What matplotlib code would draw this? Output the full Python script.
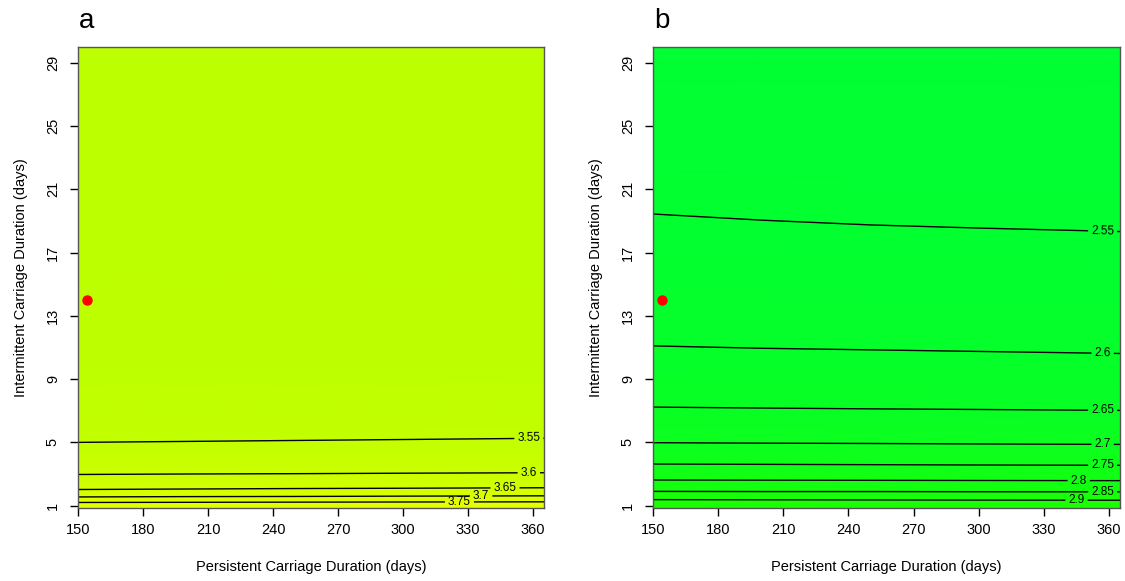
import numpy as np
import matplotlib
matplotlib.use("Agg")
import matplotlib.pyplot as plt
from matplotlib.colors import LinearSegmentedColormap, Normalize

plt.rcParams['font.family'] = ['Liberation Sans', 'DejaVu Sans']

# ---- data ----
x_grid = [150, 200, 250, 300, 365]

# Panel a: contour values and the y positions where they cross each x_grid column
a_levels = [3.79, 3.75, 3.70, 3.65, 3.60, 3.55, 3.52, 3.505]
a_ypos = [
    [0.80, 0.80, 0.80, 0.80, 0.80],
    [1.20, 1.21, 1.22, 1.23, 1.24],
    [1.55, 1.57, 1.58, 1.60, 1.62],
    [2.02, 2.05, 2.08, 2.10, 2.13],
    [2.97, 3.00, 3.02, 3.05, 3.08],
    [5.00, 5.06, 5.12, 5.18, 5.26],
    [10.0, 10.0, 10.0, 10.0, 10.0],
    [30.5, 30.5, 30.5, 30.5, 30.5],
]
a_contours = [3.55, 3.6, 3.65, 3.7, 3.75]
a_label_x = [358, 358, 347, 336, 326]

# Panel b
b_levels = [2.95, 2.90, 2.85, 2.80, 2.75, 2.70, 2.65, 2.60, 2.55, 2.525]
b_ypos = [
    [0.80, 0.80, 0.80, 0.80, 0.80],
    [1.38, 1.37, 1.36, 1.35, 1.34],
    [1.90, 1.89, 1.89, 1.88, 1.87],
    [2.62, 2.61, 2.60, 2.59, 2.58],
    [3.63, 3.61, 3.59, 3.57, 3.55],
    [4.98, 4.95, 4.93, 4.90, 4.87],
    [7.23, 7.17, 7.12, 7.08, 7.02],
    [11.1, 10.95, 10.85, 10.75, 10.62],
    [19.44, 19.05, 18.75, 18.55, 18.33],
    [30.5, 30.5, 30.5, 30.5, 30.5],
]
b_contours = [2.55, 2.6, 2.65, 2.7, 2.75, 2.8, 2.85, 2.9]
b_label_x = [357, 357, 357, 357, 357, 346, 357, 345]

point_x = [154]
point_y = [14]

x_ticks = [150, 180, 210, 240, 270, 300, 330, 360]
y_ticks = [1, 5, 9, 13, 17, 21, 25, 29]

panels = [
    dict(letter="a", levels=a_levels, ypos=a_ypos, contours=a_contours,
         label_x=a_label_x, colors=["#BBFF00", "#E8FF00"]),
    dict(letter="b", levels=b_levels, ypos=b_ypos, contours=b_contours,
         label_x=b_label_x, colors=["#00FF33", "#1CFF00"]),
]

fig = plt.figure(figsize=(11.25, 5.81), dpi=100)
fig.patch.set_facecolor("white")

W, H = 1125, 581
axes_px = [(78, 544), (653, 1120)]
top_px, bot_px = 47, 508

for (l, r), p in zip(axes_px, panels):
    ax = fig.add_axes([l / W, 1 - bot_px / H, (r - l) / W, (bot_px - top_px) / H])
    X = np.tile(np.array(x_grid, dtype=float), (len(p["levels"]), 1))
    Y = np.array(p["ypos"], dtype=float)
    Z = np.tile(np.array(p["levels"], dtype=float)[:, None], (1, len(x_grid)))
    cmap = LinearSegmentedColormap.from_list("c", p["colors"])
    norm = Normalize(vmin=min(p["levels"]), vmax=max(p["levels"]))
    ax.pcolormesh(X, Y, Z, shading="gouraud", cmap=cmap, norm=norm)
    cs = ax.contour(X, Y, Z, levels=sorted(p["contours"]), colors="black",
                    linewidths=1.0)
    manual = []
    for lev, lx in zip(p["contours"], p["label_x"]):
        i = p["levels"].index(lev)
        manual.append((lx, np.interp(lx, x_grid, p["ypos"][i])))
    ax.clabel(cs, fmt=lambda v: f"{v:g}", manual=manual, inline=True,
              inline_spacing=3, fontsize=8.5)
    ax.plot(point_x, point_y, "o", color="red", markersize=6.5, zorder=5)

    ax.set_xlim(150, 365)
    ax.set_ylim(0.85, 30.0)
    ax.set_xticks(x_ticks)
    ax.set_yticks(y_ticks)
    ax.set_yticklabels([str(t) for t in y_ticks], rotation=90, va="center")
    ax.tick_params(direction="out", length=6, width=1, labelsize=10.5, pad=5,
                   colors="black")
    ax.tick_params(axis="y", pad=7)
    for s in ax.spines.values():
        s.set_color("#555555")
        s.set_linewidth(1.0)
    ax.set_xlabel("Persistent Carriage Duration (days)", fontsize=10.5, labelpad=16)
    ax.set_ylabel("Intermittent Carriage Duration (days)", fontsize=10.5, labelpad=13)
    fig.text((l + 1) / W, 1 - 28 / H, p["letter"], fontsize=20, ha="left",
             va="baseline")

fig.savefig("out.png", dpi=100)
